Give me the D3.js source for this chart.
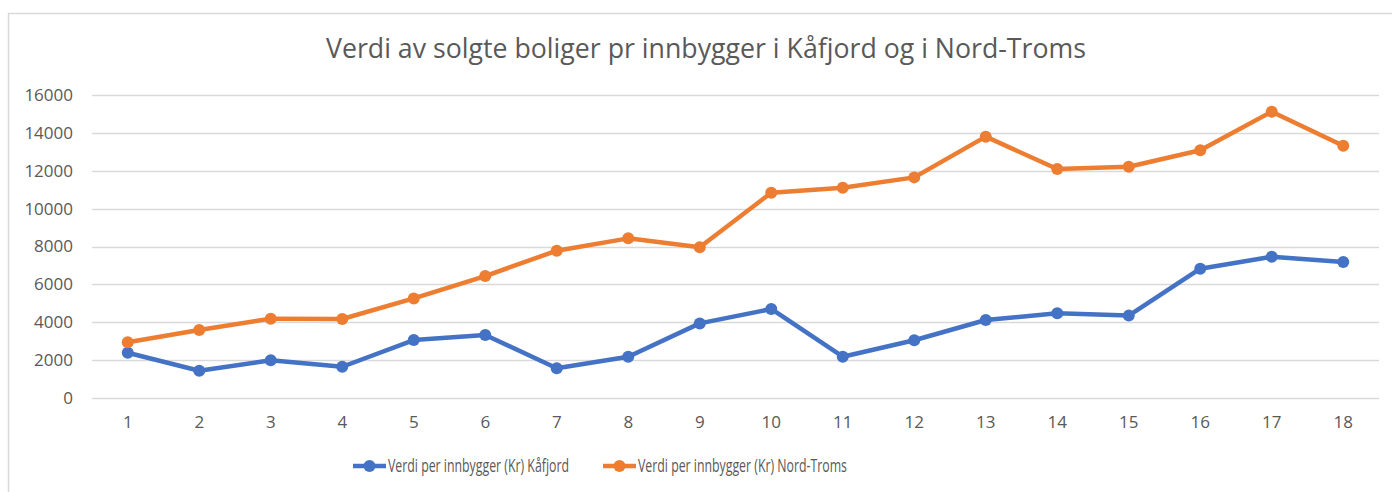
<!DOCTYPE html>
<html>
<head>
<meta charset="utf-8">
<script src="https://cdnjs.cloudflare.com/ajax/libs/d3/7.8.5/d3.min.js"></script>
<style>
  body { margin: 0; background: #fff; }
  text { font-family: "Open Sans", "Noto Sans", sans-serif; fill: #595959; }
</style>
</head>
<body>
<div id="chart"></div>
<script>
var title = 'Verdi av solgte boliger pr innbygger i Kåfjord og i Nord-Troms'
var categories = ['1', '2', '3', '4', '5', '6', '7', '8', '9', '10', '11', '12', '13', '14', '15', '16', '17', '18']
var kafjord = [2390, 1440, 1990, 1650, 3060, 3330, 1570, 2180, 3940, 4700, 2180, 3050, 4120, 4470, 4350, 6830, 7460, 7180]
var nordTroms = [2940, 3590, 4190, 4170, 5260, 6440, 7780, 8430, 7960, 10840, 11100, 11650, 13800, 12090, 12210, 13080, 15120, 13320]
var yTicks = [0, 2000, 4000, 6000, 8000, 10000, 12000, 14000, 16000]
var seriesNames = ['Verdi per innbygger (Kr) Kåfjord', 'Verdi per innbygger (Kr) Nord-Troms']
var seriesColors = ['#4472c4', '#ed7d31']

var width = 1392, height = 492
var margin = {top: 95, right: 13, bottom: 94, left: 92}

var svg = d3.select('#chart').append('svg')
  .attr('width', width)
  .attr('height', height)

// chart frame
svg.append('rect')
  .attr('x', 8.5).attr('y', 13.5)
  .attr('width', width + 10).attr('height', height + 10)
  .attr('fill', 'none')
  .attr('stroke', '#d9d9d9')
  .attr('stroke-width', 1.5)

var x = d3.scaleBand()
  .domain(categories)
  .range([margin.left, width - margin.right])

var y = d3.scaleLinear()
  .domain([0, 16000])
  .range([height - margin.bottom, margin.top])

// gridlines
svg.append('g')
  .selectAll('line')
  .data(yTicks)
  .join('line')
  .attr('x1', margin.left)
  .attr('x2', width - margin.right)
  .attr('y1', function (d) { return Math.round(y(d)) + 0.5 })
  .attr('y2', function (d) { return Math.round(y(d)) + 0.5 })
  .attr('stroke', '#d9d9d9')
  .attr('stroke-width', 1.5)

var yAxis = svg.append('g')
  .attr('transform', 'translate(' + (margin.left - 19) + ',0)')
  .call(d3.axisLeft(y).tickValues(yTicks).tickSize(0).tickPadding(0).tickFormat(d3.format('d')))
yAxis.select('.domain').remove()
yAxis.selectAll('text').style('font-size', '17px').attr('fill', '#595959')

var xAxis = svg.append('g')
  .attr('transform', 'translate(0,' + (height - margin.bottom) + ')')
  .call(d3.axisBottom(x).tickSize(0).tickPadding(18))
xAxis.select('.domain').remove()
xAxis.selectAll('text').style('font-size', '17px').attr('fill', '#595959')

var cx = function (d, i) { return x(categories[i]) + x.bandwidth() / 2 }

;[kafjord, nordTroms].forEach(function (values, s) {
  var line = d3.line()
    .x(cx)
    .y(function (d) { return y(d) })
  svg.append('path')
    .datum(values)
    .attr('d', line)
    .attr('fill', 'none')
    .attr('stroke', seriesColors[s])
    .attr('stroke-width', 4.5)
    .attr('stroke-linejoin', 'round')
  svg.append('g')
    .selectAll('circle')
    .data(values)
    .join('circle')
    .attr('cx', cx)
    .attr('cy', function (d) { return y(d) })
    .attr('r', 6)
    .attr('fill', seriesColors[s])
})

svg.append('text')
  .attr('x', 706)
  .attr('y', 58)
  .attr('text-anchor', 'middle')
  .style('font-size', '28px')
  .attr('textLength', 760)
  .attr('lengthAdjust', 'spacingAndGlyphs')
  .text(title)

// legend
var legendX = [353, 603]
var legendTextLen = [181, 209]
seriesNames.forEach(function (name, s) {
  var g = svg.append('g').attr('transform', 'translate(' + legendX[s] + ',466)')
  g.append('line')
    .attr('x1', 0).attr('x2', 33)
    .attr('stroke', seriesColors[s])
    .attr('stroke-width', 4.5)
  g.append('circle')
    .attr('cx', 16.5).attr('r', 6)
    .attr('fill', seriesColors[s])
  g.append('text')
    .attr('x', 35)
    .attr('dy', '0.35em')
    .style('font-size', '18px')
    .attr('textLength', legendTextLen[s])
    .attr('lengthAdjust', 'spacingAndGlyphs')
    .text(name)
})
</script>
</body>
</html>
